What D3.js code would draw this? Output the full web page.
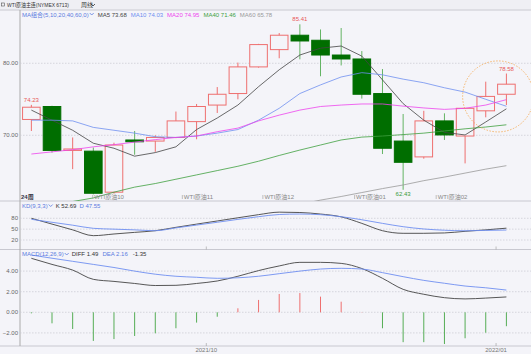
<!DOCTYPE html>
<html>
<head>
<meta charset="utf-8">
<title>WTI原油主连 周线</title>
<script src="https://d3js.org/d3.v7.min.js"></script>
<style>
  body { margin: 0; background: #f4f4f9; }
  svg { display: block; }
  text { font-family: "Liberation Sans", "Noto Sans CJK SC", sans-serif; font-size: 6px; }
</style>
</head>
<body>
<div id="chart"></div>
<script>
// Weekly candles (24 weeks)
const opens  = [72.2, 74.0, 67.9, 67.8, 62.1, 69.35, 69.2, 69.7, 71.9, 74.2, 75.8, 79.5,
                81.9, 83.9, 83.2, 81.15, 80.6, 75.8, 69.2, 67.0, 72.0, 69.9, 73.4, 75.7];
const highs  = [74.23, 74.1, 69.7, 68.3, 68.97, 70.6, 70.0, 73.3, 74.35, 76.7, 80.1, 82.7,
                84.2, 85.41, 84.7, 84.9, 81.7, 79.2, 72.96, 73.4, 73.05, 73.75, 77.45, 78.58];
const lows   = [70.6, 67.6, 65.3, 61.8, 61.9, 67.3, 67.7, 69.6, 69.45, 73.1, 75.0, 79.4,
                80.7, 80.55, 78.2, 79.7, 75.1, 67.4, 62.43, 66.75, 69.35, 66.1, 72.5, 74.2];
const closes = [73.9, 67.9, 68.1, 61.95, 68.65, 69.1, 69.7, 72.0, 74.0, 75.7, 79.5, 82.6,
                83.9, 83.1, 81.15, 80.6, 75.7, 68.2, 66.25, 72.0, 70.05, 73.75, 75.4, 77.1];

// Moving averages
const ma5  = [73.5, 72.1, 70.7, 68.9, 68.2, 67.1, 67.6, 68.4, 70.8, 72.4, 74.2, 76.75,
              79.1, 81.15, 82.1, 82.4, 81.0, 77.7, 74.4, 72.1, 70.4, 70.05, 71.85, 73.68];
const ma10 = [72.1, 72.1, 72.0, 71.1, 70.7, 70.3, 69.8, 69.7, 69.9, 70.3, 70.8, 72.1,
              73.75, 75.8, 77.0, 78.1, 78.7, 78.4, 77.8, 77.3, 76.6, 76.0, 75.0, 74.03];
const ma20 = [67.4, 67.7, 68.0, 68.4, 68.7, 69.05, 69.4, 69.7, 69.9, 70.5, 71.0, 72.0,
              72.8, 73.5, 74.0, 74.2, 74.35, 74.35, 74.05, 73.8, 73.6, 73.75, 74.2, 74.95];
const ma40 = [59.6, 60.2, 60.8, 61.3, 62.1, 62.8, 63.3, 63.9, 64.5, 65.1, 65.7, 66.4,
              67.2, 67.95, 68.65, 69.35, 69.75, 69.9, 70.1, 70.3, 70.6, 70.9, 71.15, 71.46];
const ma60 = [null, null, null, null, null, null, null, null, null, null, null, 59.35,
              59.9, 60.4, 61.0, 61.5, 62.05, 62.6, 63.1, 63.7, 64.2, 64.75, 65.3, 65.78];

// KD(9,3,3)
const kValues = [80, 64, 48, 32, 36.6, 41.1, 45.7, 55, 63.9, 72.6, 81.4, 90.1,
                 97, 96, 91.8, 84, 66, 45.7, 38.5, 38.5, 39.5, 44, 48, 52.69];
const dValues = [77.2, 69, 61, 52.3, 50, 48, 45.7, 53.5, 61.3, 69, 77, 84.5,
                 90.5, 91.8, 90, 84.4, 76, 66, 56.8, 50.5, 47, 45.5, 46.5, 47.55];

// MACD(12,26,9)
const diffValues = [5.24, 4.65, 4.1, 3.2, 3.0, 2.8, 2.6, 2.62, 2.8, 3.04, 3.5, 4.05,
                    4.5, 4.85, 4.85, 4.75, 4.25, 3.3, 2.23, 1.75, 1.42, 1.3, 1.38, 1.49];
const deaValues  = [5.56, 5.25, 4.95, 4.65, 4.35, 4.0, 3.7, 3.5, 3.4, 3.3, 3.35, 3.5,
                    3.75, 4.0, 4.2, 4.27, 4.2, 3.85, 3.46, 3.1, 2.82, 2.55, 2.38, 2.16];
const macdBars   = [-0.1, -1.07, -1.62, -2.78, -2.6, -2.3, -2.04, -1.55, -1.0, -0.43, 0.39, 1.2,
                    1.78, 1.87, 1.52, 1.03, 0.03, -1.55, -2.9, -2.9, -3.08, -2.52, -1.98, -1.35];

// Axis ticks and labels
const priceTicks = [70, 80];
const kdTicks = [20, 50, 80];
const macdTicks = [-2, 0, 2, 4];
const contractLabels = ["WTI原油10", "WTI原油11", "WTI原油12", "WTI原油01", "WTI原油02"];
const contractPos = [2.97, 7.31, 11.21, 15.65, 19.6];
const dateLabels = ["2021/10", "2022/01"];
const datePos = [8.47, 22.5];

const maLegend = [
  { name: "MA5", value: "73.68", color: "#444" },
  { name: "MA10", value: "74.03", color: "#6f8ff0" },
  { name: "MA20", value: "74.95", color: "#ee44ee" },
  { name: "MA40", value: "71.46", color: "#3f9f3f" },
  { name: "MA60", value: "65.78", color: "#999" }
];

const width = 531, height = 354;
const left = 20;
const UP = "#ee6f6f", DOWN = "#006e00", DOWN_WICK = "#64b464";
const BG = "#f4f4f9";

const svg = d3.select("#chart").append("svg")
  .attr("width", width).attr("height", height);

svg.append("rect").attr("width", width).attr("height", height).attr("fill", BG);

// Panels: [top, bottom]
const pricePanel = [10, 201];
const kdPanel = [201, 249.5];
const macdPanel = [249.5, 346];

const idx = d3.range(opens.length);
const x = d3.scaleBand().domain(idx).range([left, left + 24 * 20.74]).padding(0.1);
const cx = i => x(i) + x.bandwidth() / 2;
const xPos = d3.scaleLinear().domain([0, 23]).range([cx(0), cx(23)]);

const yPrice = d3.scaleLinear().domain([70, 80]).range([135.3, 63.3]);
const yKD = d3.scaleLinear().domain([20, 80]).range([240, 218.3]);
const yMacd = d3.scaleLinear().domain([-2, 4]).range([332.9, 271.1]);

// Header bar
svg.append("rect").attr("width", width).attr("height", 9.5).attr("fill", "#efeff4");
svg.append("rect").attr("x", 1.5).attr("y", 3).attr("width", 3).attr("height", 3)
  .attr("fill", "none").attr("stroke", "#555").attr("stroke-width", 0.6);
svg.append("text").attr("x", 7).attr("y", 7).attr("fill", "#333").attr("font-size", 5.3)
  .attr("textLength", 62).attr("lengthAdjust", "spacingAndGlyphs")
  .text("WTI原油主连(NYMEX 6713)");
svg.append("text").attr("x", 81).attr("y", 7).attr("fill", "#333").attr("font-size", 5.5).text("周线");
svg.append("path").attr("d", "M91,4 L93,6 L95,4").attr("fill", "none").attr("stroke", "#333").attr("stroke-width", 0.8);

// Panel borders
[pricePanel[0], pricePanel[1], kdPanel[1], macdPanel[1]].forEach(yy => {
  svg.append("line").attr("x1", 0).attr("x2", width).attr("y1", yy).attr("y2", yy)
    .attr("stroke", "#c8c8d0").attr("stroke-width", 1);
});
svg.append("line").attr("x1", left).attr("x2", left).attr("y1", pricePanel[0]).attr("y2", macdPanel[1])
  .attr("stroke", "#aaa").attr("stroke-width", 1);

// Clip paths
function clip(id, panel) {
  svg.append("clipPath").attr("id", id).append("rect")
    .attr("x", left + 0.5).attr("y", panel[0]).attr("width", width - left).attr("height", panel[1] - panel[0]);
  return svg.append("g").attr("clip-path", `url(#${id})`);
}

// Grid and y labels
function grid(ticks, y, fmt) {
  ticks.forEach(t => {
    svg.append("line").attr("x1", left).attr("x2", width).attr("y1", y(t)).attr("y2", y(t))
      .attr("stroke", "#c9c9d2").attr("stroke-dasharray", "1.5,1.5").attr("stroke-width", 0.7);
    svg.append("text").attr("x", left - 2).attr("y", y(t) + 2).attr("text-anchor", "end")
      .attr("fill", "#666").text(fmt(t));
  });
}
grid(priceTicks, yPrice, d3.format(".2f"));
grid(kdTicks, yKD, d => d);
grid(macdTicks, yMacd, d3.format(".2f"));

// ---------- Price panel ----------
const gp = clip("clip-price", pricePanel);

idx.forEach(i => {
  const up = closes[i] >= opens[i];
  gp.append("line")
    .attr("x1", cx(i)).attr("x2", cx(i))
    .attr("y1", yPrice(highs[i])).attr("y2", yPrice(lows[i]))
    .attr("stroke", up ? UP : DOWN_WICK).attr("stroke-width", 1);
  const top = yPrice(Math.max(opens[i], closes[i]));
  const bot = yPrice(Math.min(opens[i], closes[i]));
  gp.append("rect")
    .attr("x", x(i) + 0.5).attr("y", top)
    .attr("width", x.bandwidth() - 1).attr("height", Math.max(bot - top, 1))
    .attr("fill", up ? BG : DOWN)
    .attr("stroke", up ? UP : DOWN).attr("stroke-width", 1);
});

const maLines = [ma5, ma10, ma20, ma40, ma60];
maLines.forEach((arr, k) => {
  const line = d3.line().defined(d => d != null).x((d, i) => cx(i)).y(d => yPrice(d));
  gp.append("path").datum(arr).attr("d", line).attr("fill", "none")
    .attr("stroke", maLegend[k].color).attr("stroke-width", 0.8);
});

// Extreme labels
const marks = [
  { i: 0, v: highs[0], up: true },
  { i: 13, v: highs[13], up: true },
  { i: 18, v: lows[18], up: false },
  { i: 23, v: highs[23], up: true }
];
marks.forEach(m => {
  svg.append("text").attr("x", cx(m.i)).attr("y", m.up ? yPrice(m.v) - 3 : yPrice(m.v) + 6.5)
    .attr("text-anchor", "middle").attr("fill", m.up ? "#e85858" : "#3a9a3a")
    .text(d3.format(".2f")(m.v));
});

// Highlight circle
svg.append("circle").attr("cx", xPos(22.6)).attr("cy", yPrice(75.4)).attr("r", 35.5)
  .attr("fill", "none").attr("stroke", "#f5a64a").attr("stroke-width", 0.8)
  .attr("stroke-dasharray", "1.5,1.5");

// Contract labels along the bottom of the price panel
contractLabels.forEach((t, k) => {
  const px = xPos(contractPos[k]);
  svg.append("line").attr("x1", px).attr("x2", px).attr("y1", 195).attr("y2", 199)
    .attr("stroke", "#999").attr("stroke-width", 0.6);
  svg.append("text").attr("x", px + 1.5).attr("y", 199).attr("fill", "#888").attr("font-size", 5.5).text(t);
});
svg.append("text").attr("x", 21).attr("y", 199).attr("fill", "#334").attr("font-weight", "bold").text("24周");

// MA legend
let lx = 22;
const legendRow = svg.append("g");
const comboText = legendRow.append("text").attr("x", lx).attr("y", 16.5).attr("fill", "#5b7be0")
  .text("MA组合(5,10,20,40,60,0)");
lx += comboText.node().getComputedTextLength() + 1;
legendRow.append("path").attr("d", `M${lx},13 L${lx + 2},15 L${lx + 4},13`).attr("fill", "none")
  .attr("stroke", "#5b7be0").attr("stroke-width", 0.8);
lx += 8;
maLegend.forEach(m => {
  const t = legendRow.append("text").attr("x", lx).attr("y", 16.5).attr("fill", m.color)
    .text(`${m.name} ${m.value}`);
  lx += t.node().getComputedTextLength() + 4;
});

// ---------- KD panel ----------
const gk = clip("clip-kd", kdPanel);
[[kValues, "#444"], [dValues, "#6f8ff0"]].forEach(([arr, col]) => {
  gk.append("path").datum(arr)
    .attr("d", d3.line().x((d, i) => cx(i)).y(d => yKD(d)).curve(d3.curveMonotoneX))
    .attr("fill", "none").attr("stroke", col).attr("stroke-width", 0.9);
});
let kx = 22;
function legendText(g, txt, col, yy, gap) {
  const t = g.append("text").attr("x", kx).attr("y", yy).attr("fill", col).text(txt);
  kx += t.node().getComputedTextLength() + gap;
  return t;
}
legendText(svg, "KD(9,3,3)", "#5b7be0", 207.5, 1);
svg.append("path").attr("d", `M${kx},204.5 L${kx + 2},206.5 L${kx + 4},204.5`).attr("fill", "none")
  .attr("stroke", "#5b7be0").attr("stroke-width", 0.8);
kx += 7;
legendText(svg, "K 52.69", "#333", 207.5, 3);
legendText(svg, "D 47.55", "#5b7be0", 207.5, 3);

// ---------- MACD panel ----------
const gm = clip("clip-macd", macdPanel);
idx.forEach(i => {
  const v = macdBars[i];
  gm.append("line").attr("x1", cx(i)).attr("x2", cx(i))
    .attr("y1", yMacd(0)).attr("y2", yMacd(v))
    .attr("stroke", v >= 0 ? "#ee6f6f" : "#55ad55").attr("stroke-width", 1);
});
[[diffValues, "#444"], [deaValues, "#6f8ff0"]].forEach(([arr, col]) => {
  gm.append("path").datum(arr)
    .attr("d", d3.line().x((d, i) => cx(i)).y(d => yMacd(d)).curve(d3.curveMonotoneX))
    .attr("fill", "none").attr("stroke", col).attr("stroke-width", 0.9);
});
kx = 22;
legendText(svg, "MACD(12,26,9)", "#5b7be0", 256, 1);
svg.append("path").attr("d", `M${kx},253 L${kx + 2},255 L${kx + 4},253`).attr("fill", "none")
  .attr("stroke", "#5b7be0").attr("stroke-width", 0.8);
kx += 7;
legendText(svg, "DIFF 1.49", "#333", 256, 4);
legendText(svg, "DEA 2.16", "#5b7be0", 256, 5);
legendText(svg, "-1.35", "#333", 256, 4);

// Date ticks and bottom labels
dateLabels.forEach((t, k) => {
  const px = xPos(datePos[k]);
  [kdPanel[1], macdPanel[1]].forEach(yy => {
    svg.append("line").attr("x1", px).attr("x2", px).attr("y1", yy - 3).attr("y2", yy)
      .attr("stroke", "#999").attr("stroke-width", 0.6);
  });
  svg.append("text").attr("x", px).attr("y", 352).attr("text-anchor", "middle")
    .attr("fill", "#777").text(t);
});
</script>
</body>
</html>
